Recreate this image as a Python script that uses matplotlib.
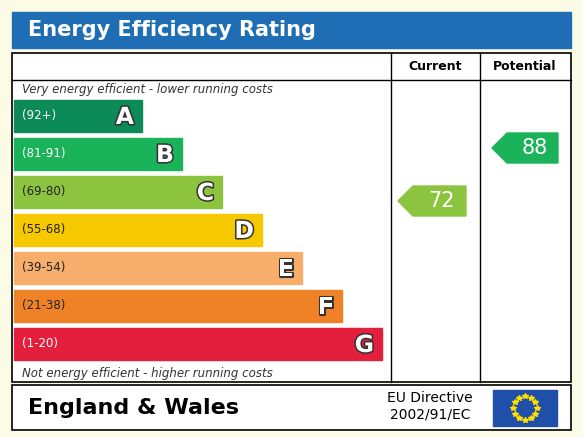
import matplotlib
matplotlib.use("Agg")
import matplotlib.pyplot as plt
from matplotlib.patches import Rectangle, Polygon
import matplotlib.patheffects as pe
import numpy as np

bands = ["A", "B", "C", "D", "E", "F", "G"]
ranges = ["(92+)", "(81-91)", "(69-80)", "(55-68)", "(39-54)", "(21-38)", "(1-20)"]
lows = [92, 81, 69, 55, 39, 21, 1]
colors = ["#0c8a58", "#1bb35a", "#8cc43f", "#f5c800", "#f7ae6a", "#ef8226", "#e41f3d"]
current = 72
potential = 88

fig = plt.figure(figsize=(5.83, 4.37), dpi=100)
fig.patch.set_facecolor("#fbfbe6")
ax = fig.add_axes([0, 0, 1, 1])
ax.set_xlim(0, 583); ax.set_ylim(437, 0); ax.axis("off")

ax.add_patch(Rectangle((12, 12), 559, 36, color="#1e6db5"))
ax.text(28, 30, "Energy Efficiency Rating", color="white", fontsize=15, fontweight="bold", va="center")

ax.add_patch(Rectangle((12, 53), 559, 329, color="white", zorder=0))
ax.add_patch(Rectangle((12, 53), 559, 329, fill=False, ec="black", lw=1.2))
ax.plot([12, 571], [80, 80], color="black", lw=1)
for x in (391, 480):
    ax.plot([x, x], [53, 382], color="black", lw=1)
ax.text(435, 67, "Current", ha="center", va="center", fontsize=9, fontweight="bold")
ax.text(525, 67, "Potential", ha="center", va="center", fontsize=9, fontweight="bold")
ax.text(22, 90, "Very energy efficient - lower running costs", fontsize=8.5, style="italic", va="center", color="#333")
ax.text(22, 374, "Not energy efficient - higher running costs", fontsize=8.5, style="italic", va="center", color="#333")

def band_index(v):
    for i, lo in enumerate(lows):
        if v >= lo:
            return i
    return len(lows) - 1

for i, (b, r, c) in enumerate(zip(bands, ranges, colors)):
    y0 = 100 + 38 * i
    w = 128 + 40 * i
    ax.add_patch(Rectangle((14, y0), w, 32, color=c))
    ax.text(22, y0 + 16, r, fontsize=8.5, va="center", color="white" if i in (0, 1, 6) else "#222")
    t = ax.text(14 + w - 8, y0 + 17, b, fontsize=17, fontweight="bold", ha="right", va="center", color="white")
    t.set_path_effects([pe.withStroke(linewidth=2.2, foreground="#333")])

def arrow(xl, xr, val):
    i = band_index(val)
    yc = 201 - (val - 72) * 53 / 16
    h = 15
    pts = [(xl, yc), (xl + 15, yc - h), (xr, yc - h), (xr, yc + h), (xl + 15, yc + h)]
    ax.add_patch(Polygon(pts, closed=True, color=colors[i]))
    ax.text((xl + 15 + xr) / 2 + 2, yc, str(val), fontsize=15, color="white", ha="center", va="center")

arrow(398, 466, current)
arrow(492, 558, potential)

ax.add_patch(Rectangle((12, 385), 559, 45, facecolor="white", ec="black", lw=1.2))
ax.text(28, 408, "England & Wales", fontsize=16, fontweight="bold", va="center")
ax.text(430, 398, "EU Directive", fontsize=10, ha="center", va="center")
ax.text(430, 415, "2002/91/EC", fontsize=10, ha="center", va="center")
ax.add_patch(Rectangle((493, 390), 64, 36, color="#1f4fa8"))
for a in np.linspace(0, 2 * np.pi, 13)[:-1]:
    ax.plot(525 + 12 * np.cos(a), 408 + 12 * np.sin(a), marker="*", color="#ffdd00", ms=4)

fig.savefig("out.png", dpi=100, facecolor=fig.get_facecolor())
